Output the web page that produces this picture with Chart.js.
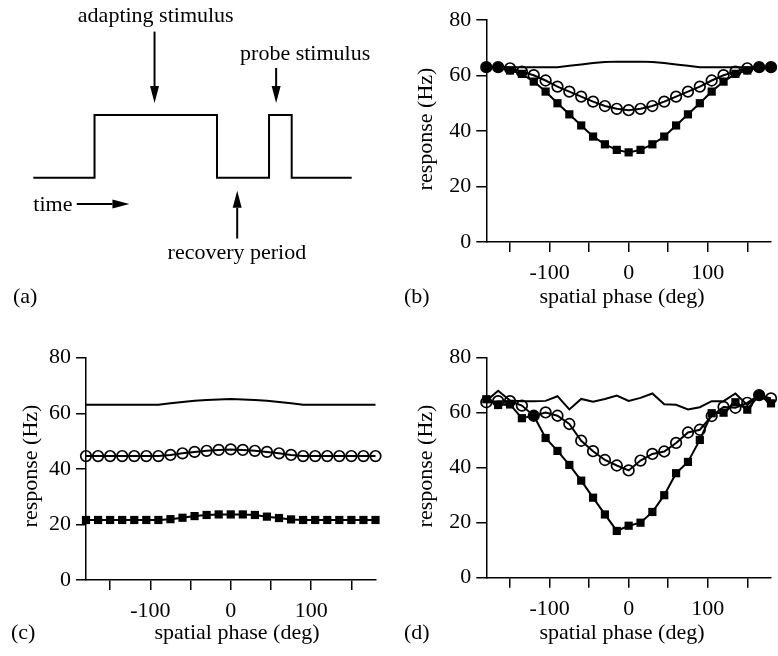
<!DOCTYPE html>
<html>
<head>
<meta charset="utf-8">
<script src="https://cdn.jsdelivr.net/npm/chart.js@4.4.0/dist/chart.umd.min.js"></script>
<style>
  html, body { margin: 0; padding: 0; background: #fff; }
  #wrap { position: relative; width: 778px; height: 656px; overflow: hidden; }
  canvas { position: absolute; }
</style>
</head>
<body>
<div id="wrap">
  <canvas id="panelA" width="389" height="320" style="left:0;top:0"></canvas>
  <canvas id="panelB" width="389" height="320" style="left:389px;top:0"></canvas>
  <canvas id="panelC" width="389" height="336" style="left:0;top:320px"></canvas>
  <canvas id="panelD" width="389" height="336" style="left:389px;top:320px"></canvas>
</div>
<script>
// spatial phase of the probe grating (deg)
const phase = [-180, -165, -150, -135, -120, -105, -90, -75, -60, -45, -30, -15, 0,
  15, 30, 45, 60, 75, 90, 105, 120, 135, 150, 165, 180];

// (b)
const bLine   = [63, 63, 63, 63, 63, 63, 63, 63.5, 64, 64.5, 64.9, 65, 65, 65, 64.9, 64.5, 64, 63.5, 63, 63, 63, 63, 63, 63, 63];
const bCircle = [63, 63, 62.6, 61.4, 60.1, 58.2, 56, 54.2, 52.4, 50.6, 49, 48, 47.5, 48, 49, 50.6, 52.4, 54.2, 56, 58.2, 60.1, 61.4, 62.6, 63, 63];
const bSquare = [63, 63, 61.8, 60.6, 57.8, 54.2, 50, 46, 42, 38, 35.2, 33.2, 32.3, 33.2, 35.2, 38, 42, 46, 50, 54.2, 57.8, 60.6, 61.8, 63, 63];

// (c)
const cLine   = [63.1, 63.1, 63.1, 63.1, 63.1, 63.1, 63.1, 63.6, 64.1, 64.5, 64.8, 65, 65.1, 65, 64.8, 64.5, 64.1, 63.6, 63.1, 63.1, 63.1, 63.1, 63.1, 63.1, 63.1];
const cCircle = [44.6, 44.6, 44.6, 44.6, 44.6, 44.6, 44.6, 45, 45.6, 46.1, 46.5, 46.8, 47, 46.8, 46.5, 46.1, 45.6, 45, 44.6, 44.6, 44.6, 44.6, 44.6, 44.6, 44.6];
const cSquare = [21.6, 21.6, 21.6, 21.6, 21.6, 21.6, 21.6, 21.9, 22.4, 23, 23.4, 23.6, 23.6, 23.6, 23.4, 22.8, 22.3, 21.8, 21.6, 21.6, 21.6, 21.6, 21.6, 21.6, 21.6];

// (d)
const dLine   = [64.3, 68, 64.4, 64.2, 64.2, 64.3, 66, 61.2, 65, 64, 65, 66.2, 64.3, 65.4, 67, 63.1, 62.9, 61.2, 62, 64.2, 64.2, 67, 62.8, 66.1, 64.6];
const dCircle = [63.8, 64.2, 64.2, 62.6, 58.9, 60.1, 58.9, 55.9, 49.8, 46, 42.8, 40.8, 39, 42.6, 45, 45.9, 49, 52.8, 53.8, 58.8, 62.1, 61.8, 63.6, 66.4, 65.2];
const dSquare = [64.9, 62.8, 63, 58, 58.9, 50.8, 46.1, 41, 35.3, 29.1, 23, 17, 18.9, 20, 23.9, 30, 38, 42.1, 50.1, 59.8, 60, 63.8, 61.1, 66.4, 63.4];

// (a) stimulus time course: time (arb. units) and on/off level
const waveTime  = [0, 10, 10, 30, 30, 38.5, 38.5, 42.2, 42.2, 52];
const waveLevel = [0, 0, 1, 1, 0, 0, 1, 1, 0, 0];

const xTickLabels = [-100, 0, 100];
const yTicks = [0, 20, 40, 60, 80];

const FONT = '"Liberation Serif", "Times New Roman", serif';
Chart.defaults.font.family = FONT;
Chart.defaults.font.size = 22;
Chart.defaults.color = '#000';

function pts(xs, ys) {
  return xs.map((x, i) => ({ x: x, y: ys[i] }));
}

// circles drawn filled where they sit on top of the square
function circleFill(circ, sq) {
  return circ.map((v, i) => Math.abs(v - sq[i]) < 0.3 ? '#000' : 'rgba(0,0,0,0)');
}

// axis titles and the panel letter
const panelText = {
  id: 'panelText',
  afterDraw(chart, args, o) {
    const ctx = chart.ctx;
    ctx.save();
    ctx.fillStyle = '#000';
    ctx.font = '22px ' + FONT;
    ctx.textBaseline = 'middle';
    if (o.label) {
      ctx.textAlign = 'left';
      ctx.fillText(o.label, o.labelX, o.labelY);
    }
    if (o.xTitle) {
      ctx.textAlign = 'center';
      ctx.fillText(o.xTitle, o.xTitleX, o.xTitleY);
    }
    if (o.yTitle) {
      ctx.translate(o.yTitleX, o.yTitleY);
      ctx.rotate(-Math.PI / 2);
      ctx.textAlign = 'center';
      ctx.fillText(o.yTitle, 0, 0);
    }
    ctx.restore();
  }
};

function responsePanel(id, line, circ, sq, g) {
  new Chart(document.getElementById(id), {
    type: 'line',
    data: {
      datasets: [
        {
          data: pts(phase, circ),
          borderColor: '#000',
          borderWidth: 2,
          pointStyle: 'circle',
          pointRadius: 5.3,
          pointBorderWidth: 1.7,
          pointBorderColor: '#000',
          pointBackgroundColor: circleFill(circ, sq),
          tension: 0,
          clip: false
        },
        {
          data: pts(phase, sq),
          borderColor: '#000',
          borderWidth: 2,
          pointStyle: 'rect',
          pointRadius: 5.8,
          pointBorderWidth: 0,
          pointBackgroundColor: '#000',
          tension: 0,
          clip: false
        },
        {
          data: pts(phase, line),
          borderColor: '#000',
          borderWidth: 2,
          pointRadius: 0,
          tension: 0,
          clip: false
        }
      ]
    },
    options: {
      responsive: false,
      animation: false,
      events: [],
      layout: { padding: { top: g.top, right: g.right, left: 0, bottom: 0 } },
      scales: {
        x: {
          type: 'linear',
          min: -180,
          max: 180,
          afterFit: s => { s.height = g.xh; },
          grid: { drawOnChartArea: false, drawTicks: true, tickLength: 10, color: '#000', lineWidth: 1.5 },
          border: { display: true, color: '#000', width: 1.5 },
          ticks: {
            stepSize: 50,
            includeBounds: false,
            autoSkip: false,
            maxRotation: 0,
            padding: 8,
            callback: v => xTickLabels.includes(v) ? String(v) : ''
          }
        },
        y: {
          min: 0,
          max: 80,
          afterFit: s => { s.width = g.yw; },
          grid: { drawOnChartArea: false, drawTicks: true, tickLength: 10, color: '#000', lineWidth: 1.5 },
          border: { display: true, color: '#000', width: 1.5 },
          ticks: {
            stepSize: 20,
            padding: 5,
            callback: v => yTicks.includes(v) ? String(v) : ''
          }
        }
      },
      plugins: {
        legend: { display: false },
        tooltip: { enabled: false },
        panelText: {
          label: g.label, labelX: g.labelX, labelY: g.labelY,
          xTitle: 'spatial phase (deg)', xTitleX: g.xTitleX, xTitleY: g.xTitleY,
          yTitle: 'response (Hz)', yTitleX: g.yTitleX, yTitleY: g.yTitleY
        }
      }
    },
    plugins: [panelText]
  });
}

// (a) schematic: arrows and words placed in the chart's own time / level units
const schematic = {
  id: 'schematic',
  afterDatasetsDraw(chart) {
    const ctx = chart.ctx;
    const xs = chart.scales.x, ys = chart.scales.y;
    const X = v => xs.getPixelForValue(v), Y = v => ys.getPixelForValue(v);
    const arrows = [
      [19.8, 2.33, 19.8, 1.19],   // adapting stimulus
      [39.66, 1.75, 39.66, 1.19], // probe stimulus
      [33.3, -0.97, 33.3, -0.21], // recovery period
      [7.1, -0.42, 15.7, -0.42]   // time
    ];
    ctx.save();
    ctx.strokeStyle = '#000';
    ctx.fillStyle = '#000';
    ctx.lineWidth = 2;
    arrows.forEach(a => {
      const x1 = X(a[0]), y1 = Y(a[1]), x2 = X(a[2]), y2 = Y(a[3]);
      const ang = Math.atan2(y2 - y1, x2 - x1);
      const hl = 17, hw = 4.5;
      const bx = x2 - hl * Math.cos(ang), by = y2 - hl * Math.sin(ang);
      ctx.beginPath();
      ctx.moveTo(x1, y1);
      ctx.lineTo(bx, by);
      ctx.stroke();
      ctx.beginPath();
      ctx.moveTo(x2, y2);
      ctx.lineTo(bx + hw * Math.sin(ang), by - hw * Math.cos(ang));
      ctx.lineTo(bx - hw * Math.sin(ang), by + hw * Math.cos(ang));
      ctx.closePath();
      ctx.fill();
    });
    ctx.font = '22px ' + FONT;
    ctx.textBaseline = 'alphabetic';
    ctx.textAlign = 'center';
    ctx.fillText('adapting stimulus', X(20), Y(2.49));
    ctx.fillText('probe stimulus', X(44.4), Y(1.88));
    ctx.fillText('recovery period', X(33.25), Y(-1.3));
    ctx.textAlign = 'left';
    ctx.fillText('time', X(0), Y(-0.53));
    ctx.restore();
  }
};

new Chart(document.getElementById('panelA'), {
  type: 'line',
  data: {
    datasets: [{
      data: pts(waveTime, waveLevel),
      borderColor: '#000',
      borderWidth: 2,
      pointRadius: 0,
      tension: 0,
      clip: false
    }]
  },
  options: {
    responsive: false,
    animation: false,
    events: [],
    layout: { padding: { left: 33.3, right: 37.3, top: 115, bottom: 142.3 } },
    scales: {
      x: { type: 'linear', min: 0, max: 52, display: false },
      y: { min: 0, max: 1, display: false }
    },
    plugins: {
      legend: { display: false },
      tooltip: { enabled: false },
      panelText: { label: '(a)', labelX: 13, labelY: 297 }
    }
  },
  plugins: [schematic, panelText]
});

responsePanel('panelB', bLine, bCircle, bSquare, {
  top: 20, right: 1, yw: 97.3, xh: 78,
  label: '(b)', labelX: 15, labelY: 297,
  xTitleX: 233, xTitleY: 297, yTitleX: 37, yTitleY: 129
});

responsePanel('panelC', cLine, cCircle, cSquare, {
  top: 37.7, right: 13.5, yw: 86, xh: 76,
  label: '(c)', labelX: 11, labelY: 313,
  xTitleX: 237, xTitleY: 313, yTitleX: 31, yTitleY: 146
});

responsePanel('panelD', dLine, dCircle, dSquare, {
  top: 37.7, right: 1, yw: 97.3, xh: 78.3,
  label: '(d)', labelX: 15, labelY: 313,
  xTitleX: 233, xTitleY: 313, yTitleX: 37, yTitleY: 146
});
</script>
</body>
</html>
